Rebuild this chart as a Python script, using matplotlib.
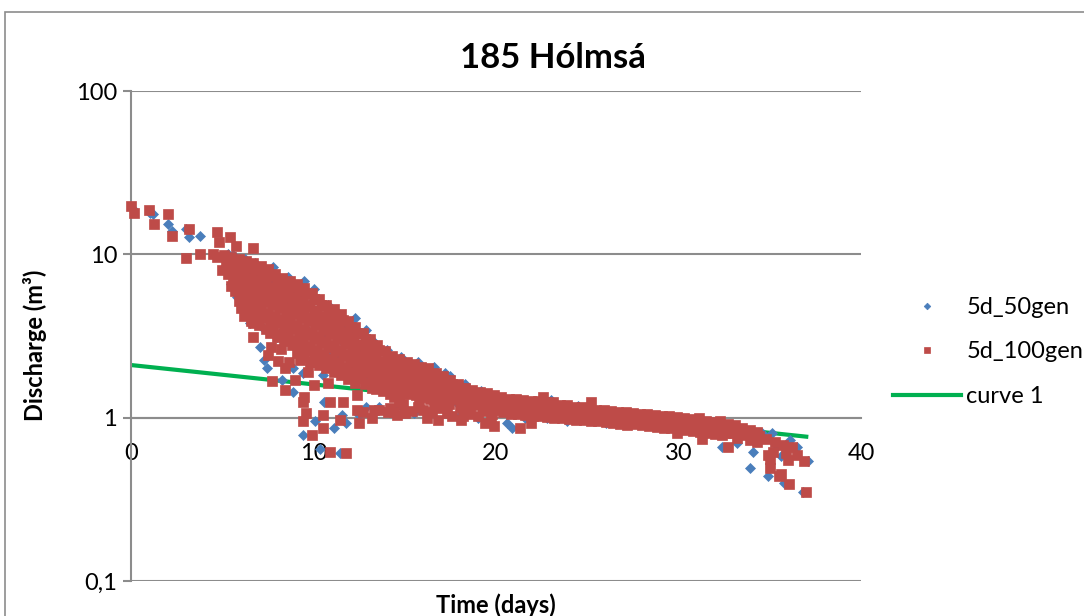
import matplotlib
matplotlib.use('Agg')
import matplotlib.pyplot as plt
from matplotlib.patches import Rectangle
from matplotlib.ticker import NullLocator

plt.rcParams['font.family'] = ['Lato', 'DejaVu Sans']

# axis ticks
x_ticks = [0, 10, 20, 30, 40]
x_labels = ['0', '10', '20', '30', '40']
y_ticks = [0.1, 1, 10, 100]
y_labels = ['0,1', '1', '10', '100']

# fitted recession curve (straight line on the log axis)
curve_t = [0, 37]
curve_q = [2.1, 0.765]

# 5d_50gen: (days, discharge)
gen50_head = [(0.1, 19.0), (1.05, 18.0), (1.2, 17.7), (2.0, 15.4), (2.25, 13.9),
              (3.0, 14.3), (3.2, 12.8), (3.8, 13.0), (5.3, 10.1)]
gen50_cloud = [(5.6, 9.9), (5.7, 8.2), (5.5, 6.6), (5.8, 5.5),
               (6.25, 9.4), (6.3, 7.6), (6.2, 6.0), (6.4, 5.0), (6.1, 4.7), (6.5, 3.8),
               (6.8, 8.9), (7.0, 7.3), (6.9, 5.8), (7.1, 4.6), (7.05, 2.7), (7.3, 2.26),
               (7.45, 2.02), (7.2, 3.6),
               (7.8, 8.4), (7.7, 6.9), (7.9, 5.4), (7.6, 4.3), (8.0, 3.1), (8.3, 1.71), (8.3, 3.4),
               (8.6, 7.3), (8.7, 6.0), (8.5, 4.8), (8.8, 3.8), (8.9, 2.02), (8.9, 1.44), (8.5, 3.0),
               (9.5, 6.9), (9.3, 5.5), (9.4, 4.4), (9.6, 3.5), (9.4, 1.88), (9.4, 0.78), (9.2, 2.8),
               (10.0, 6.1), (9.9, 5.1), (10.1, 4.0), (10.0, 3.2), (10.2, 2.4), (10.1, 0.95),
               (10.35, 0.64), (10.5, 1.83), (10.6, 1.25),
               (10.8, 4.9), (10.9, 3.9), (10.7, 3.1), (11.0, 2.5), (11.1, 2.0), (11.1, 0.86),
               (11.3, 4.45), (11.5, 3.6), (11.6, 2.9), (11.4, 2.3), (11.45, 0.61), (11.55, 1.04),
               (11.8, 0.93),
               (12.3, 4.1), (12.2, 3.2), (12.4, 2.6), (12.1, 2.0), (12.5, 1.04), (12.9, 3.45),
               (12.7, 1.8),
               (13.3, 2.9), (13.4, 2.3), (13.2, 1.75), (13.6, 1.17), (12.9, 1.17),
               (14.0, 2.6), (14.2, 2.0), (14.2, 1.42), (14.5, 1.17), (14.9, 1.15),
               (14.8, 2.35), (15.0, 1.85), (15.2, 1.5), (15.5, 1.07),
               (15.7, 2.2), (15.9, 1.75), (16.1, 1.4),
               (16.6, 2.05), (16.5, 1.6), (16.9, 1.3),
               (17.2, 1.88), (17.5, 1.8), (17.5, 1.5), (17.8, 1.25),
               (18.0, 1.04), (18.3, 1.6), (18.6, 1.35), (19.0, 1.0), (19.2, 1.45), (19.5, 1.2)]
gen50_tail = [(20.2, 1.3), (20.6, 0.93), (20.9, 0.86), (20.7, 1.1), (21.4, 1.25), (21.6, 1.0),
              (22.3, 1.15), (22.8, 0.99), (23.0, 1.28), (23.5, 1.05), (23.9, 0.96), (24.5, 1.18),
              (24.9, 1.0), (25.5, 1.1), (26.0, 0.93), (26.6, 1.07), (27.0, 0.95), (27.6, 1.04),
              (28.2, 0.92), (28.8, 1.0), (29.3, 0.9), (29.8, 0.96), (30.3, 0.86), (30.9, 0.95),
              (31.4, 0.83), (32.0, 0.9), (32.4, 0.66), (32.8, 0.8), (33.2, 0.7), (33.6, 0.85),
              (33.9, 0.49), (34.1, 0.62), (34.3, 0.75), (34.6, 0.8), (34.9, 0.44), (35.1, 0.81),
              (35.4, 0.67), (35.6, 0.58), (35.8, 0.4), (36.1, 0.73), (36.5, 0.66), (36.8, 0.35),
              (37.1, 0.54)]

# 5d_100gen: (days, discharge)
gen100_head = [(0.0, 19.8), (0.15, 17.9), (1.0, 18.7), (1.25, 15.4), (2.0, 17.7), (2.25, 13.0),
               (3.2, 14.3), (3.0, 9.5), (3.8, 10.0), (4.5, 10.0), (4.7, 13.7), (4.8, 11.9),
               (4.7, 9.6), (5.4, 12.8), (5.75, 11.3), (6.7, 11.0)]
gen100_cloud = [(5.1, 9.9), (5.2, 8.9), (5.0, 8.0), (5.3, 7.6),
                (5.5, 9.6), (5.6, 8.7), (5.4, 7.9), (5.6, 7.1), (5.5, 6.4), (5.7, 6.0),
                (5.9, 9.4), (6.0, 8.5), (5.8, 7.7), (6.0, 7.0), (5.9, 6.3), (6.1, 5.7), (5.9, 5.2), (6.0, 4.7),
                (6.3, 9.1), (6.4, 8.2), (6.2, 7.5), (6.4, 6.8), (6.3, 6.1), (6.5, 5.5), (6.3, 5.0), (6.4, 4.5), (6.2, 4.2),
                (6.7, 8.8), (6.8, 8.0), (6.6, 7.2), (6.8, 6.6), (6.7, 5.9), (6.9, 5.3), (6.7, 4.8), (6.8, 4.3), (6.6, 3.9),
                (7.1, 8.5), (7.2, 7.7), (7.0, 7.0), (7.2, 6.3), (7.1, 5.7), (7.3, 5.1), (7.1, 4.6), (7.2, 4.1), (7.0, 3.7),
                (7.5, 8.1), (7.6, 7.4), (7.4, 6.7), (7.6, 6.1), (7.5, 5.5), (7.7, 4.9), (7.5, 4.4), (7.6, 3.9), (7.4, 3.5), (7.6, 3.3),
                (7.9, 7.6), (8.0, 6.9), (7.8, 6.3), (8.0, 5.8), (7.9, 5.2), (8.1, 4.7), (7.9, 4.2), (8.0, 3.8), (7.8, 3.4), (8.0, 3.1),
                (8.3, 7.2), (8.4, 6.6), (8.2, 6.0), (8.4, 5.5), (8.3, 5.0), (8.5, 4.5), (8.3, 4.0), (8.4, 3.6), (8.2, 3.25), (8.4, 2.95),
                (8.7, 6.9), (8.8, 6.3), (8.6, 5.8), (8.8, 5.2), (8.7, 4.7), (8.9, 4.3), (8.7, 3.9), (8.8, 3.5), (8.6, 3.1), (8.8, 2.8),
                (9.1, 6.6), (9.2, 6.0), (9.0, 5.5), (9.2, 5.0), (9.1, 4.5), (9.3, 4.1), (9.1, 3.7), (9.2, 3.3), (9.0, 3.0), (9.2, 2.7), (9.1, 2.5),
                (9.5, 6.2), (9.6, 5.7), (9.4, 5.2), (9.6, 4.8), (9.5, 4.3), (9.7, 3.9), (9.5, 3.5), (9.6, 3.2), (9.4, 2.9), (9.6, 2.6), (9.5, 2.35),
                (9.9, 5.8), (10.0, 5.3), (9.8, 4.9), (10.0, 4.5), (9.9, 4.1), (10.1, 3.7), (9.9, 3.35), (10.0, 3.05), (9.8, 2.75), (10.0, 2.5), (9.9, 2.2),
                (10.3, 5.3), (10.4, 4.9), (10.2, 4.5), (10.4, 4.1), (10.3, 3.8), (10.5, 3.45), (10.3, 3.15), (10.4, 2.85), (10.2, 2.6), (10.4, 2.35), (10.3, 2.1),
                (10.7, 4.9), (10.8, 4.5), (10.6, 4.2), (10.8, 3.85), (10.7, 3.55), (10.9, 3.25), (10.7, 2.95), (10.8, 2.7), (10.6, 2.45), (10.8, 2.2), (10.7, 2.0),
                (11.1, 4.6), (11.2, 4.2), (11.0, 3.9), (11.2, 3.6), (11.1, 3.3), (11.3, 3.05), (11.1, 2.8), (11.2, 2.55), (11.0, 2.3), (11.2, 2.1), (11.1, 1.9),
                (11.5, 4.3), (11.6, 3.95), (11.4, 3.65), (11.6, 3.35), (11.5, 3.1), (11.7, 2.85), (11.5, 2.6), (11.6, 2.4), (11.4, 2.2), (11.6, 2.0), (11.5, 1.82),
                (11.9, 3.9), (12.0, 3.6), (11.8, 3.35), (12.0, 3.1), (11.9, 2.85), (12.1, 2.65), (11.9, 2.45), (12.0, 2.25), (11.8, 2.05), (12.0, 1.88), (11.9, 1.72),
                (12.3, 3.6), (12.4, 3.3), (12.2, 3.05), (12.4, 2.8), (12.3, 2.6), (12.5, 2.4), (12.3, 2.2), (12.4, 2.05), (12.2, 1.9), (12.4, 1.75), (12.3, 1.62),
                (12.7, 3.3), (12.8, 3.05), (12.6, 2.8), (12.8, 2.6), (12.7, 2.4), (12.9, 2.2), (12.7, 2.05), (12.8, 1.9), (12.6, 1.75), (12.8, 1.6),
                (13.1, 3.05), (13.2, 2.8), (13.0, 2.6), (13.2, 2.4), (13.1, 2.2), (13.3, 2.05), (13.1, 1.9), (13.2, 1.75), (13.0, 1.62), (13.2, 1.52),
                (13.5, 2.8), (13.6, 2.6), (13.4, 2.4), (13.6, 2.2), (13.5, 2.05), (13.7, 1.9), (13.5, 1.76), (13.6, 1.63), (13.4, 1.5),
                (13.9, 2.55), (14.0, 2.35), (13.8, 2.2), (14.0, 2.05), (13.9, 1.9), (14.1, 1.77), (13.9, 1.65), (14.0, 1.53), (13.8, 1.45),
                (14.3, 2.4), (14.4, 2.2), (14.2, 2.05), (14.4, 1.92), (14.3, 1.8), (14.5, 1.68), (14.3, 1.57), (14.4, 1.47), (14.2, 1.4),
                (14.7, 2.3), (14.8, 2.12), (14.6, 1.98), (14.8, 1.85), (14.7, 1.73), (14.9, 1.62), (14.7, 1.52), (14.8, 1.43), (14.6, 1.36),
                (15.1, 2.2), (15.2, 2.05), (15.0, 1.92), (15.2, 1.8), (15.1, 1.68), (15.3, 1.58), (15.1, 1.48), (15.2, 1.4),
                (15.5, 2.12), (15.6, 1.98), (15.4, 1.86), (15.6, 1.74), (15.5, 1.63), (15.7, 1.53), (15.5, 1.45), (15.6, 1.37),
                (15.9, 2.05), (16.0, 1.92), (15.8, 1.8), (16.0, 1.69), (15.9, 1.59), (16.1, 1.5), (15.9, 1.42), (16.0, 1.34),
                (16.3, 2.0), (16.4, 1.86), (16.2, 1.75), (16.4, 1.65), (16.3, 1.55), (16.5, 1.46), (16.3, 1.38), (16.4, 1.31),
                (16.7, 1.88), (16.8, 1.76), (16.6, 1.66), (16.8, 1.57), (16.7, 1.48), (16.9, 1.4), (16.7, 1.33),
                (17.1, 1.8), (17.2, 1.69), (17.0, 1.6), (17.2, 1.51), (17.1, 1.43), (17.3, 1.36), (17.1, 1.29),
                (17.5, 1.7), (17.6, 1.6), (17.4, 1.52), (17.6, 1.45), (17.5, 1.38), (17.7, 1.31),
                (17.9, 1.6), (18.0, 1.52), (17.8, 1.45), (18.0, 1.39), (17.9, 1.33), (18.1, 1.27),
                (18.3, 1.52), (18.4, 1.45), (18.2, 1.39), (18.4, 1.33), (18.3, 1.27), (18.5, 1.22),
                (18.7, 1.47), (18.8, 1.41), (18.6, 1.35), (18.8, 1.3), (18.7, 1.25), (18.9, 1.2),
                (19.1, 1.44), (19.2, 1.38), (19.0, 1.32), (19.2, 1.27), (19.1, 1.22), (19.3, 1.17),
                (19.5, 1.41), (19.6, 1.35), (19.4, 1.3), (19.6, 1.25), (19.5, 1.2), (19.7, 1.15),
                (19.9, 1.38), (20.0, 1.32), (19.8, 1.27), (20.0, 1.22), (19.9, 1.17), (20.1, 1.12)]
gen100_low = [(6.7, 3.8), (6.7, 3.1), (7.5, 2.43), (7.65, 2.7), (7.7, 1.68), (8.05, 2.23),
              (8.2, 2.64), (8.45, 2.0), (8.45, 1.48), (8.65, 2.2), (9.0, 1.71), (9.25, 2.26),
              (9.4, 1.24), (9.5, 1.34), (9.4, 0.95), (9.6, 1.07), (9.7, 1.9), (9.8, 2.2),
              (9.9, 0.78), (10.0, 1.59), (10.5, 1.04), (10.5, 0.86), (10.8, 1.64), (10.9, 1.25),
              (10.9, 0.62), (11.45, 0.97), (11.6, 1.24), (11.8, 0.61), (12.4, 1.38), (12.4, 1.12),
              (12.5, 0.93),
              (12.7, 1.09), (13.2, 1.0), (13.3, 1.12), (13.6, 1.12), (14.1, 1.09), (14.2, 1.15),
              (14.4, 1.09), (14.7, 1.24), (14.6, 1.04), (15.0, 1.07), (15.4, 1.1), (15.7, 1.17),
              (16.0, 1.12), (16.2, 1.0), (16.5, 1.08), (16.8, 0.97), (17.3, 1.07), (17.6, 1.02),
              (18.1, 0.97), (18.2, 1.03), (18.6, 1.06), (19.0, 1.03), (19.4, 0.93), (19.9, 0.89),
              (19.7, 1.0), (14.9, 1.22), (15.8, 1.25), (16.6, 1.2), (17.4, 1.22), (18.0, 1.17),
              (18.5, 1.12), (19.3, 1.1), (19.8, 1.06), (17.0, 1.15), (14.4, 1.34)]
gen100_flat = [(20.3, 1.33), (20.4, 1.24), (20.2, 1.16), (20.4, 1.08),
               (20.7, 1.31), (20.8, 1.22), (20.6, 1.14), (20.8, 1.06),
               (21.1, 1.3), (21.2, 1.21), (21.0, 1.13), (21.2, 1.05), (21.3, 0.86),
               (21.5, 1.28), (21.6, 1.2), (21.4, 1.12), (21.6, 1.04),
               (21.9, 1.27), (22.0, 1.19), (21.8, 1.11), (22.0, 1.03), (21.9, 0.93),
               (22.3, 1.26), (22.4, 1.18), (22.2, 1.1), (22.4, 1.02),
               (22.6, 1.33), (22.7, 1.24), (22.8, 1.16), (22.6, 1.09), (22.8, 1.01),
               (23.1, 1.25), (23.2, 1.15), (23.0, 1.08), (23.2, 1.0),
               (23.5, 1.2), (23.6, 1.13), (23.4, 1.06), (23.6, 0.99),
               (23.9, 1.19), (24.0, 1.12), (23.8, 1.05), (24.0, 0.98),
               (24.3, 1.17), (24.4, 1.1), (24.2, 1.04), (24.4, 0.97),
               (24.7, 1.16), (24.8, 1.09), (24.6, 1.03), (24.8, 0.97),
               (25.2, 1.24), (25.1, 1.14), (25.2, 1.07), (25.0, 1.01), (25.2, 0.96),
               (25.5, 1.12), (25.6, 1.06), (25.4, 1.0), (25.6, 0.95),
               (25.9, 1.11), (26.0, 1.05), (25.8, 0.99), (26.0, 0.94),
               (26.3, 1.1), (26.4, 1.04), (26.2, 0.98), (26.4, 0.93),
               (26.7, 1.09), (26.8, 1.03), (26.6, 0.97), (26.8, 0.92),
               (27.1, 1.08), (27.2, 1.02), (27.0, 0.96), (27.2, 0.9),
               (27.5, 1.07), (27.6, 1.01), (27.4, 0.96), (27.6, 0.91),
               (27.9, 1.06), (28.0, 1.0), (27.8, 0.95), (28.0, 0.9),
               (28.3, 1.05), (28.4, 0.99), (28.2, 0.94), (28.4, 0.89),
               (28.7, 1.04), (28.8, 0.98), (28.6, 0.93), (28.8, 0.88),
               (29.1, 1.03), (29.2, 0.97), (29.0, 0.92), (29.2, 0.87),
               (29.5, 1.02), (29.6, 0.96), (29.4, 0.91), (29.6, 0.86),
               (29.9, 1.01), (30.0, 0.95), (29.8, 0.9), (30.0, 0.85), (29.9, 0.8),
               (30.3, 0.99), (30.4, 0.94), (30.2, 0.89), (30.4, 0.84),
               (30.7, 0.98), (30.8, 0.93), (30.6, 0.88), (30.8, 0.83),
               (31.1, 1.0), (31.2, 0.92), (31.0, 0.87), (31.2, 0.82), (31.3, 0.74),
               (31.5, 0.95), (31.6, 0.9), (31.4, 0.86), (31.6, 0.81),
               (31.9, 0.94), (32.0, 0.89), (31.8, 0.84), (32.0, 0.79),
               (32.3, 0.96), (32.4, 0.88), (32.2, 0.83), (32.4, 0.78),
               (32.7, 0.92), (32.8, 0.86), (32.6, 0.81), (32.7, 0.66),
               (33.1, 0.9), (33.2, 0.85), (33.0, 0.8), (33.2, 0.75),
               (33.5, 0.87), (33.6, 0.82), (33.4, 0.78),
               (33.9, 0.84), (34.0, 0.79), (33.9, 0.73),
               (34.3, 0.82), (34.4, 0.77), (34.3, 0.71)]
gen100_tail = [(34.9, 0.59), (35.0, 0.49), (35.2, 0.62), (35.0, 0.56), (35.5, 0.44), (35.7, 0.68),
               (35.6, 0.45), (36.05, 0.39), (35.9, 0.61), (36.0, 0.55), (36.2, 0.66), (36.5, 0.59),
               (36.9, 0.54), (37.0, 0.35), (34.8, 0.74), (35.3, 0.71)]


def unzip(*groups):
    pts = [p for g in groups for p in g]
    return [p[0] for p in pts], [p[1] for p in pts]


gen50_t, gen50_q = unzip(gen50_head, gen50_cloud, gen50_tail)
gen100_t, gen100_q = unzip(gen100_head, gen100_cloud, gen100_low, gen100_flat, gen100_tail)

grey = '#8c8c8c'
blue = '#4a7ebb'
red = '#be4b48'
green = '#00b050'

fig = plt.figure(figsize=(10.84, 6.16), dpi=100)
ax = fig.add_axes([131 / 1084, 35 / 616, 730 / 1084, 490 / 616])

# chart area frame, runs off the right and bottom edges
fig.patches.append(Rectangle((5 / 1084, -0.1), 1.2, 1.1 - 12 / 616, transform=fig.transFigure,
                             fill=False, edgecolor=grey, linewidth=1.2))

line_curve, = ax.plot(curve_t, curve_q, color=green, linewidth=3, zorder=2, label='curve 1')
pts50, = ax.plot(gen50_t, gen50_q, linestyle='none', marker='D', markersize=5.6,
                 color=blue, markeredgewidth=0.5, zorder=3, clip_on=False, label='5d_50gen')
pts100, = ax.plot(gen100_t, gen100_q, linestyle='none', marker='s', markersize=6.8,
                  color=red, markeredgewidth=0.5, zorder=4, clip_on=False, label='5d_100gen')

ax.set_yscale('log')
ax.set_ylim(0.1, 100)
ax.set_xlim(0, 40)
ax.set_yticks(y_ticks)
ax.set_yticklabels(y_labels)
ax.yaxis.set_minor_locator(NullLocator())
ax.set_xticks(x_ticks)
ax.set_xticklabels(x_labels)

for side in ['top', 'right']:
    ax.spines[side].set_visible(False)
ax.spines['bottom'].set_position(('data', 1))
ax.spines['bottom'].set_color(grey)
ax.spines['bottom'].set_linewidth(1.5)
ax.spines['left'].set_color(grey)
ax.spines['left'].set_linewidth(1.5)
ax.tick_params(axis='y', length=6, width=1.5, color=grey, pad=4, labelsize=17)
ax.tick_params(axis='x', length=0, pad=18, labelsize=17)
ax.grid(axis='y', color=grey, linewidth=1.5)
ax.set_axisbelow(True)

fig.text(553 / 1084, 1 - 58 / 616, '185 Hólmsá', ha='center', va='center',
         fontsize=25, fontweight='bold')
fig.text(496 / 1084, 1 - 605 / 616, 'Time (days)', ha='center', va='center',
         fontsize=17, fontweight='bold')
fig.text(35 / 1084, 1 - 345 / 616, 'Discharge (m³)', ha='center', va='center',
         rotation=90, fontsize=17, fontweight='bold')

fig.legend([pts50, pts100, line_curve], ['5d_50gen', '5d_100gen', 'curve 1'],
           loc='center left', bbox_to_anchor=(893 / 1084, 1 - 352 / 616), frameon=False,
           fontsize=17, handlelength=2.9, handletextpad=0.2, labelspacing=1.0,
           borderpad=0, borderaxespad=0, markerscale=0.6)

fig.savefig('out.png', dpi=100)
